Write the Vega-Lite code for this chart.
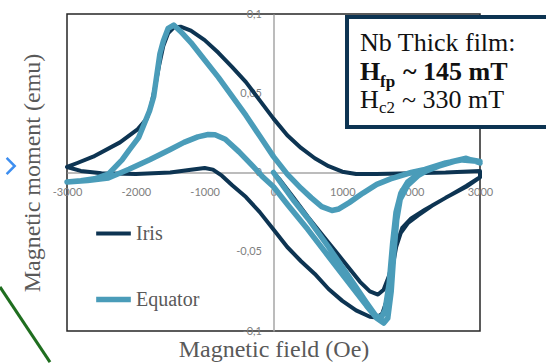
{
  "$schema": "https://vega.github.io/schema/vega-lite/v6.json",
  "width": 413,
  "height": 317,
  "autosize": "none",
  "padding": {"left": 67, "top": 14, "right": 66, "bottom": 32},
  "background": "white",
  "config": {
    "view": {"stroke": "#262626", "strokeWidth": 1.5},
    "axis": {"grid": false}
  },
  "datasets": {
    "loops": [
      {"s":"Iris","i":0,"H":0,"M":0},
      {"s":"Iris","i":1,"H":100,"M":-0.005},
      {"s":"Iris","i":2,"H":283,"M":-0.0155},
      {"s":"Iris","i":3,"H":500,"M":-0.028},
      {"s":"Iris","i":4,"H":777,"M":-0.043},
      {"s":"Iris","i":5,"H":1000,"M":-0.055},
      {"s":"Iris","i":6,"H":1257,"M":-0.069},
      {"s":"Iris","i":7,"H":1400,"M":-0.075},
      {"s":"Iris","i":8,"H":1518,"M":-0.077},
      {"s":"Iris","i":9,"H":1600,"M":-0.074},
      {"s":"Iris","i":10,"H":1680,"M":-0.065},
      {"s":"Iris","i":11,"H":1760,"M":-0.05},
      {"s":"Iris","i":12,"H":1850,"M":-0.038},
      {"s":"Iris","i":13,"H":1950,"M":-0.032},
      {"s":"Iris","i":14,"H":2100,"M":-0.027},
      {"s":"Iris","i":15,"H":2300,"M":-0.021},
      {"s":"Iris","i":16,"H":2500,"M":-0.016},
      {"s":"Iris","i":17,"H":2800,"M":-0.009},
      {"s":"Iris","i":18,"H":3000,"M":-0.003},
      {"s":"Iris","i":19,"H":3000,"M":0.001},
      {"s":"Iris","i":20,"H":2500,"M":0.0},
      {"s":"Iris","i":21,"H":2000,"M":-0.0005},
      {"s":"Iris","i":22,"H":1500,"M":-0.001},
      {"s":"Iris","i":23,"H":1200,"M":-0.001},
      {"s":"Iris","i":24,"H":1000,"M":0.0005},
      {"s":"Iris","i":25,"H":800,"M":0.004},
      {"s":"Iris","i":26,"H":600,"M":0.009},
      {"s":"Iris","i":27,"H":400,"M":0.0155},
      {"s":"Iris","i":28,"H":200,"M":0.0235},
      {"s":"Iris","i":29,"H":0,"M":0.034},
      {"s":"Iris","i":30,"H":-200,"M":0.0455},
      {"s":"Iris","i":31,"H":-400,"M":0.057},
      {"s":"Iris","i":32,"H":-600,"M":0.0665},
      {"s":"Iris","i":33,"H":-800,"M":0.0755},
      {"s":"Iris","i":34,"H":-1000,"M":0.0835},
      {"s":"Iris","i":35,"H":-1200,"M":0.0895},
      {"s":"Iris","i":36,"H":-1350,"M":0.092},
      {"s":"Iris","i":37,"H":-1450,"M":0.0915},
      {"s":"Iris","i":38,"H":-1530,"M":0.088},
      {"s":"Iris","i":39,"H":-1600,"M":0.08},
      {"s":"Iris","i":40,"H":-1660,"M":0.068},
      {"s":"Iris","i":41,"H":-1720,"M":0.054},
      {"s":"Iris","i":42,"H":-1780,"M":0.042},
      {"s":"Iris","i":43,"H":-1840,"M":0.034},
      {"s":"Iris","i":44,"H":-1980,"M":0.027},
      {"s":"Iris","i":45,"H":-2230,"M":0.019},
      {"s":"Iris","i":46,"H":-2620,"M":0.01},
      {"s":"Iris","i":47,"H":-2850,"M":0.006},
      {"s":"Iris","i":48,"H":-3000,"M":0.0035},
      {"s":"Iris","i":49,"H":-2800,"M":0.001},
      {"s":"Iris","i":50,"H":-2500,"M":-0.0005},
      {"s":"Iris","i":51,"H":-2000,"M":-0.001},
      {"s":"Iris","i":52,"H":-1500,"M":0.0},
      {"s":"Iris","i":53,"H":-1200,"M":0.0017},
      {"s":"Iris","i":54,"H":-1000,"M":0.0028},
      {"s":"Iris","i":55,"H":-880,"M":0.0018},
      {"s":"Iris","i":56,"H":-750,"M":-0.002},
      {"s":"Iris","i":57,"H":-600,"M":-0.008},
      {"s":"Iris","i":58,"H":-400,"M":-0.0155},
      {"s":"Iris","i":59,"H":-200,"M":-0.025},
      {"s":"Iris","i":60,"H":0,"M":-0.036},
      {"s":"Iris","i":61,"H":200,"M":-0.047},
      {"s":"Iris","i":62,"H":400,"M":-0.056},
      {"s":"Iris","i":63,"H":600,"M":-0.064},
      {"s":"Iris","i":64,"H":800,"M":-0.0735},
      {"s":"Iris","i":65,"H":1000,"M":-0.081},
      {"s":"Iris","i":66,"H":1200,"M":-0.087},
      {"s":"Iris","i":67,"H":1400,"M":-0.091},
      {"s":"Iris","i":68,"H":1500,"M":-0.0915},
      {"s":"Iris","i":69,"H":1580,"M":-0.089},
      {"s":"Iris","i":70,"H":1650,"M":-0.08},
      {"s":"Iris","i":71,"H":1720,"M":-0.062},
      {"s":"Iris","i":72,"H":1790,"M":-0.045},
      {"s":"Iris","i":73,"H":1870,"M":-0.035},
      {"s":"Iris","i":74,"H":2000,"M":-0.029},
      {"s":"Iris","i":75,"H":2200,"M":-0.0235},
      {"s":"Iris","i":76,"H":2500,"M":-0.016},
      {"s":"Iris","i":77,"H":2800,"M":-0.0085},
      {"s":"Iris","i":78,"H":3000,"M":-0.003},
      {"s":"Equator","i":0,"H":0,"M":0},
      {"s":"Equator","i":1,"H":150,"M":-0.009},
      {"s":"Equator","i":2,"H":300,"M":-0.018},
      {"s":"Equator","i":3,"H":500,"M":-0.029},
      {"s":"Equator","i":4,"H":800,"M":-0.047},
      {"s":"Equator","i":5,"H":1100,"M":-0.066},
      {"s":"Equator","i":6,"H":1350,"M":-0.082},
      {"s":"Equator","i":7,"H":1480,"M":-0.09},
      {"s":"Equator","i":8,"H":1560,"M":-0.092},
      {"s":"Equator","i":9,"H":1620,"M":-0.087},
      {"s":"Equator","i":10,"H":1680,"M":-0.07},
      {"s":"Equator","i":11,"H":1730,"M":-0.045},
      {"s":"Equator","i":12,"H":1780,"M":-0.025},
      {"s":"Equator","i":13,"H":1850,"M":-0.013},
      {"s":"Equator","i":14,"H":1950,"M":-0.006},
      {"s":"Equator","i":15,"H":2100,"M":-0.001},
      {"s":"Equator","i":16,"H":2400,"M":0.004},
      {"s":"Equator","i":17,"H":2700,"M":0.008},
      {"s":"Equator","i":18,"H":3000,"M":0.007},
      {"s":"Equator","i":19,"H":2800,"M":0.0085},
      {"s":"Equator","i":20,"H":2500,"M":0.006},
      {"s":"Equator","i":21,"H":2200,"M":0.002},
      {"s":"Equator","i":22,"H":2000,"M":0.0},
      {"s":"Equator","i":23,"H":1700,"M":-0.004},
      {"s":"Equator","i":24,"H":1500,"M":-0.0075},
      {"s":"Equator","i":25,"H":1300,"M":-0.013},
      {"s":"Equator","i":26,"H":1100,"M":-0.019},
      {"s":"Equator","i":27,"H":950,"M":-0.023},
      {"s":"Equator","i":28,"H":850,"M":-0.024},
      {"s":"Equator","i":29,"H":700,"M":-0.0215},
      {"s":"Equator","i":30,"H":550,"M":-0.016},
      {"s":"Equator","i":31,"H":400,"M":-0.01},
      {"s":"Equator","i":32,"H":200,"M":-0.001},
      {"s":"Equator","i":33,"H":0,"M":0.01},
      {"s":"Equator","i":34,"H":-200,"M":0.023},
      {"s":"Equator","i":35,"H":-400,"M":0.036},
      {"s":"Equator","i":36,"H":-600,"M":0.048},
      {"s":"Equator","i":37,"H":-800,"M":0.06},
      {"s":"Equator","i":38,"H":-1000,"M":0.071},
      {"s":"Equator","i":39,"H":-1200,"M":0.082},
      {"s":"Equator","i":40,"H":-1350,"M":0.089},
      {"s":"Equator","i":41,"H":-1450,"M":0.093},
      {"s":"Equator","i":42,"H":-1530,"M":0.091},
      {"s":"Equator","i":43,"H":-1600,"M":0.083},
      {"s":"Equator","i":44,"H":-1650,"M":0.075},
      {"s":"Equator","i":45,"H":-1700,"M":0.06},
      {"s":"Equator","i":46,"H":-1740,"M":0.048},
      {"s":"Equator","i":47,"H":-1800,"M":0.039},
      {"s":"Equator","i":48,"H":-1960,"M":0.022},
      {"s":"Equator","i":49,"H":-2100,"M":0.014},
      {"s":"Equator","i":50,"H":-2200,"M":0.008},
      {"s":"Equator","i":51,"H":-2400,"M":-0.001},
      {"s":"Equator","i":52,"H":-2600,"M":-0.004},
      {"s":"Equator","i":53,"H":-2800,"M":-0.0052},
      {"s":"Equator","i":54,"H":-3000,"M":-0.006},
      {"s":"Equator","i":55,"H":-2700,"M":-0.005},
      {"s":"Equator","i":56,"H":-2400,"M":-0.0035},
      {"s":"Equator","i":57,"H":-2100,"M":0.002},
      {"s":"Equator","i":58,"H":-1800,"M":0.008},
      {"s":"Equator","i":59,"H":-1500,"M":0.0145},
      {"s":"Equator","i":60,"H":-1300,"M":0.019},
      {"s":"Equator","i":61,"H":-1100,"M":0.0225},
      {"s":"Equator","i":62,"H":-950,"M":0.024},
      {"s":"Equator","i":63,"H":-850,"M":0.0238},
      {"s":"Equator","i":64,"H":-700,"M":0.021},
      {"s":"Equator","i":65,"H":-500,"M":0.013},
      {"s":"Equator","i":66,"H":-300,"M":0.004},
      {"s":"Equator","i":67,"H":-150,"M":-0.003},
      {"s":"Equator","i":68,"H":0,"M":-0.009},
      {"s":"Equator","i":69,"H":200,"M":-0.02},
      {"s":"Equator","i":70,"H":500,"M":-0.036},
      {"s":"Equator","i":71,"H":800,"M":-0.053},
      {"s":"Equator","i":72,"H":1100,"M":-0.07},
      {"s":"Equator","i":73,"H":1350,"M":-0.084},
      {"s":"Equator","i":74,"H":1500,"M":-0.092},
      {"s":"Equator","i":75,"H":1600,"M":-0.095},
      {"s":"Equator","i":76,"H":1660,"M":-0.092},
      {"s":"Equator","i":77,"H":1710,"M":-0.075},
      {"s":"Equator","i":78,"H":1750,"M":-0.05},
      {"s":"Equator","i":79,"H":1790,"M":-0.03},
      {"s":"Equator","i":80,"H":1840,"M":-0.017},
      {"s":"Equator","i":81,"H":1950,"M":-0.008},
      {"s":"Equator","i":82,"H":2100,"M":-0.002},
      {"s":"Equator","i":83,"H":2300,"M":0.003},
      {"s":"Equator","i":84,"H":2600,"M":0.007},
      {"s":"Equator","i":85,"H":2800,"M":0.009},
      {"s":"Equator","i":86,"H":3000,"M":0.006}
    ]
  },
  "layer": [
    {
      "data": {"values": [{}]},
      "mark": {"type": "rule", "color": "#1f6e1f", "strokeWidth": 3},
      "encoding": {
        "x": {"datum": -3974, "type": "quantitative", "scale": {"domain": [-3000, 3000], "nice": false, "zero": false},
          "axis": {"orient": "bottom", "title": "Magnetic field (Oe)", "labels": false, "ticks": false, "domain": false,
            "titleFont": "Liberation Serif", "titleFontSize": 24, "titleFontWeight": "normal", "titleColor": "#595959", "titlePadding": 6}},
        "y": {"datum": -0.0722, "type": "quantitative", "scale": {"domain": [-0.1, 0.1], "nice": false, "zero": false},
          "axis": {"orient": "left", "title": "Magnetic moment (emu)", "labels": false, "ticks": false, "domain": false,
            "titleFont": "Liberation Serif", "titleFontSize": 24, "titleFontWeight": "normal", "titleColor": "#595959", "titlePadding": 23}},
        "x2": {"datum": -3247},
        "y2": {"datum": -0.1196}
      }
    },
    {
      "data": {"values": [{}]},
      "mark": {"type": "point", "shape": "M-1,-1L0,0L-1,1", "size": 260, "filled": false, "color": "#3d8ef0", "strokeWidth": 2.5, "opacity": 1},
      "encoding": {
        "x": {"datum": -3760, "type": "quantitative", "scale": {"domain": [-3000, 3000], "nice": false, "zero": false}, "axis": null},
        "y": {"datum": 0.0041, "type": "quantitative", "scale": {"domain": [-0.1, 0.1], "nice": false, "zero": false}, "axis": null}
      }
    },
    {
      "data": {"name": "loops"},
      "mark": {"type": "line", "strokeCap": "round", "strokeJoin": "round"},
      "encoding": {
        "x": {"field": "H", "type": "quantitative", "scale": {"domain": [-3000, 3000], "nice": false, "zero": false},
          "axis": {"orient": "bottom", "offset": -158.5, "title": null, "values": [-3000, -2000, -1000, 0, 1000, 2000, 3000],
            "labelExpr": "toString(datum.value)", "ticks": false, "domainColor": "#a6a6a6", "domainWidth": 1.5,
            "labelFont": "Lato", "labelFontSize": 11, "labelColor": "#808080", "labelPadding": 14,
            "labelOverlap": false, "labelBound": false, "labelFlush": false}},
        "y": {"field": "M", "type": "quantitative", "scale": {"domain": [-0.1, 0.1], "nice": false, "zero": false},
          "axis": {"orient": "left", "offset": -206.5, "title": null, "values": [-0.1, -0.05, 0, 0.05, 0.1],
            "labelExpr": "datum.value == 0 ? '0' : (datum.value < 0 ? '-' : '') + replace(toString(abs(datum.value)), '.', ',')",
            "ticks": false, "domainColor": "#a6a6a6", "domainWidth": 1.5,
            "labelFont": "Lato", "labelFontSize": 11, "labelColor": "#808080", "labelPadding": 12,
            "labelOverlap": false, "labelBound": false, "labelFlush": false}},
        "color": {"field": "s", "type": "nominal",
          "scale": {"domain": ["Iris", "Equator"], "range": ["#0d3452", "#4a9cb9"]},
          "legend": {"orient": "none", "legendX": 26, "legendY": 200, "title": null, "symbolType": "stroke",
            "symbolSize": 1200, "symbolStrokeWidth": 5, "labelFont": "Liberation Serif", "labelFontSize": 20,
            "labelColor": "#595959", "rowPadding": 35, "labelOffset": 2}},
        "strokeWidth": {"field": "s", "type": "nominal", "scale": {"domain": ["Iris", "Equator"], "range": [4, 5.5]}, "legend": null},
        "order": {"field": "i", "type": "quantitative"}
      }
    },
    {
      "data": {"values": [{}]},
      "mark": {"type": "rect", "fill": "white", "stroke": "#0d3452", "strokeWidth": 4},
      "encoding": {
        "x": {"datum": 1068, "type": "quantitative", "scale": {"domain": [-3000, 3000], "nice": false, "zero": false}, "axis": null},
        "x2": {"datum": 4300},
        "y": {"datum": 0.0981, "type": "quantitative", "scale": {"domain": [-0.1, 0.1], "nice": false, "zero": false}, "axis": null},
        "y2": {"datum": 0.0287}
      }
    },
    {
      "data": {"values": [{}]},
      "mark": {"type": "text", "align": "left", "baseline": "middle", "font": "Liberation Serif", "fontSize": 26, "color": "#111111"},
      "encoding": {
        "x": {"datum": 1257, "type": "quantitative", "scale": {"domain": [-3000, 3000], "nice": false, "zero": false}, "axis": null},
        "y": {"datum": 0.0817, "type": "quantitative", "scale": {"domain": [-0.1, 0.1], "nice": false, "zero": false}, "axis": null},
        "text": {"value": "Nb Thick film:"}
      }
    },
    {
      "data": {"values": [{}]},
      "mark": {"type": "text", "align": "left", "baseline": "middle", "font": "Liberation Serif", "fontSize": 26, "fontWeight": "bold", "color": "#111111"},
      "encoding": {
        "x": {"datum": 1257, "type": "quantitative", "scale": {"domain": [-3000, 3000], "nice": false, "zero": false}, "axis": null},
        "y": {"datum": 0.0634, "type": "quantitative", "scale": {"domain": [-0.1, 0.1], "nice": false, "zero": false}, "axis": null},
        "text": {"value": "H"}
      }
    },
    {
      "data": {"values": [{}]},
      "mark": {"type": "text", "align": "left", "baseline": "middle", "font": "Liberation Serif", "fontSize": 17, "fontWeight": "bold", "color": "#111111", "dx": 20},
      "encoding": {
        "x": {"datum": 1257, "type": "quantitative", "scale": {"domain": [-3000, 3000], "nice": false, "zero": false}, "axis": null},
        "y": {"datum": 0.0571, "type": "quantitative", "scale": {"domain": [-0.1, 0.1], "nice": false, "zero": false}, "axis": null},
        "text": {"value": "fp"}
      }
    },
    {
      "data": {"values": [{}]},
      "mark": {"type": "text", "align": "left", "baseline": "middle", "font": "Liberation Serif", "fontSize": 26, "fontWeight": "bold", "color": "#111111", "dx": 43},
      "encoding": {
        "x": {"datum": 1257, "type": "quantitative", "scale": {"domain": [-3000, 3000], "nice": false, "zero": false}, "axis": null},
        "y": {"datum": 0.0634, "type": "quantitative", "scale": {"domain": [-0.1, 0.1], "nice": false, "zero": false}, "axis": null},
        "text": {"value": "~ 145 mT"}
      }
    },
    {
      "data": {"values": [{}]},
      "mark": {"type": "text", "align": "left", "baseline": "middle", "font": "Liberation Serif", "fontSize": 26, "color": "#111111"},
      "encoding": {
        "x": {"datum": 1257, "type": "quantitative", "scale": {"domain": [-3000, 3000], "nice": false, "zero": false}, "axis": null},
        "y": {"datum": 0.0457, "type": "quantitative", "scale": {"domain": [-0.1, 0.1], "nice": false, "zero": false}, "axis": null},
        "text": {"value": "H"}
      }
    },
    {
      "data": {"values": [{}]},
      "mark": {"type": "text", "align": "left", "baseline": "middle", "font": "Liberation Serif", "fontSize": 17, "color": "#111111", "dx": 19},
      "encoding": {
        "x": {"datum": 1257, "type": "quantitative", "scale": {"domain": [-3000, 3000], "nice": false, "zero": false}, "axis": null},
        "y": {"datum": 0.0404, "type": "quantitative", "scale": {"domain": [-0.1, 0.1], "nice": false, "zero": false}, "axis": null},
        "text": {"value": "c2"}
      }
    },
    {
      "data": {"values": [{}]},
      "mark": {"type": "text", "align": "left", "baseline": "middle", "font": "Liberation Serif", "fontSize": 26, "color": "#111111", "dx": 42},
      "encoding": {
        "x": {"datum": 1257, "type": "quantitative", "scale": {"domain": [-3000, 3000], "nice": false, "zero": false}, "axis": null},
        "y": {"datum": 0.0457, "type": "quantitative", "scale": {"domain": [-0.1, 0.1], "nice": false, "zero": false}, "axis": null},
        "text": {"value": "~ 330 mT"}
      }
    }
  ],
  "resolve": {"axis": {"x": "independent", "y": "independent"}}
}
